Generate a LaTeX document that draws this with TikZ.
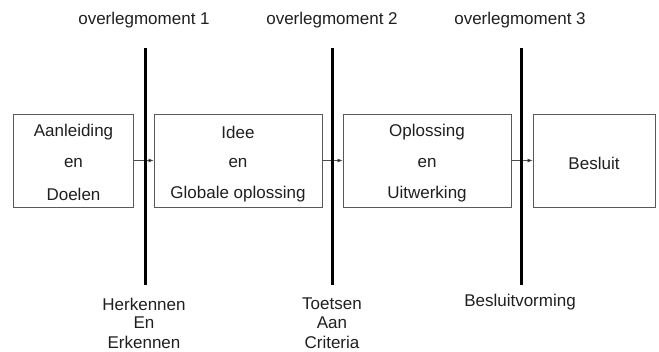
\documentclass[tikz,border=0pt]{standalone}
\usepackage{fontspec}
\setmainfont{Liberation Sans}
\usetikzlibrary{arrows.meta}
\begin{document}
\begin{tikzpicture}[x=1pt,y=-1pt,
  txt/.style={font=\fontsize{17}{20}\selectfont, text=black!88, inner sep=0pt},
  stage/.style={draw=black!65, line width=0.8pt, minimum height=93pt, inner sep=0pt},
  flow/.style={draw=black!70, line width=0.7pt, -{Latex[length=5pt,width=4pt,fill=black]}},
  bar/.style={line width=3pt, black}]
\useasboundingbox (0,0) rectangle (659,351);
% boxes
\node[stage, minimum width=120pt] (b1) at (73.5,160.5) {};
\node[stage, minimum width=168pt] (b2) at (238,160.5) {};
\node[stage, minimum width=168pt] (b3) at (427,160.5) {};
\node[stage, minimum width=122pt] (b4) at (594,160.5) {};
% box texts
\node[txt] (t1a) at (73.5,132) {Aanleiding};
\node[txt] (t1b) at (73.5,163) {en};
\node[txt] (t1c) at (73.5,194) {Doelen};
\node[txt] (t2a) at (238,132) {Idee};
\node[txt] (t2b) at (238,163) {en};
\node[txt] (t2c) at (238,194) {Globale oplossing};
\node[txt] (t3a) at (427,132) {Oplossing};
\node[txt] (t3b) at (427,163) {en};
\node[txt] (t3c) at (427,194) {Uitwerking};
\node[txt] (t4a) at (594,163) {Besluit};
% arrows
\draw[flow] (b1.east) -- (b2.west);
\draw[flow] (b2.east) -- (b3.west);
\draw[flow] (b3.east) -- (b4.west);
% bars
\coordinate (l1t) at (145,48); \coordinate (l1b) at (145,285);
\coordinate (l2t) at (332,48); \coordinate (l2b) at (332,285);
\coordinate (l3t) at (521,48); \coordinate (l3b) at (521,285);
\draw[bar] (l1t) -- (l1b);
\draw[bar] (l2t) -- (l2b);
\draw[bar] (l3t) -- (l3b);
% top labels
\node[txt] (o1) at (144,20) {overlegmoment 1};
\node[txt] (o2) at (332,20) {overlegmoment 2};
\node[txt] (o3) at (520,20) {overlegmoment 3};
% bottom labels
\node[txt] (h1) at (144,304) {Herkennen};
\node[txt] (h2) at (144,323) {En};
\node[txt] (h3) at (144,342) {Erkennen};
\node[txt] (c1) at (332,304) {Toetsen};
\node[txt] (c2) at (332,323) {Aan};
\node[txt] (c3) at (332,342) {Criteria};
\node[txt] (bv) at (520,302) {Besluitvorming};
\end{tikzpicture}
\end{document}
